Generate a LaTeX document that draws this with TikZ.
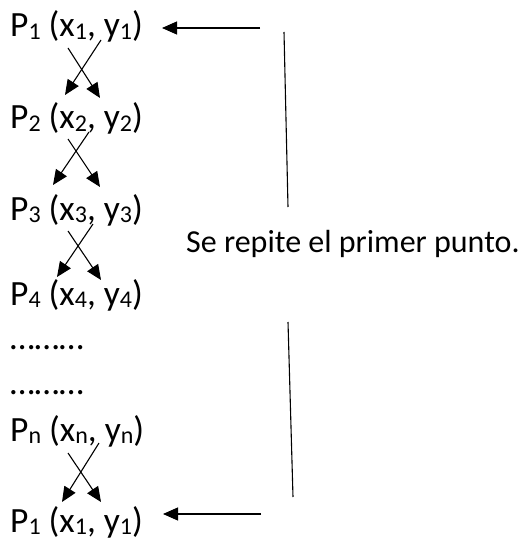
\documentclass[tikz,border=0pt]{standalone}
\usepackage{fontspec}
\setmainfont{Carlito}
\usetikzlibrary{arrows.meta}
\newcommand\mysub[1]{\raisebox{-2.5pt}{\fontsize{24}{24}\selectfont #1}}
\begin{document}
\begin{tikzpicture}[x=1pt,y=-1pt,
  ptlabel/.style={anchor=base west,inner sep=0pt,font=\fontsize{35.5}{43}\selectfont},
  note/.style={anchor=base west,inner sep=0pt,font=\fontsize{32}{38}\selectfont},
  arr/.style={line width=1.1pt,-{Triangle[length=15pt,width=13pt]}},
  ln/.style={line width=1.1pt}]
\useasboundingbox (0,0) rectangle (523,540);

\node[ptlabel] (p1) at (10,37) {P\mysub{1} (x\mysub{1}, y\mysub{1})};
\node[ptlabel] (p2) at (10,129) {P\mysub{2} (x\mysub{2}, y\mysub{2})};
\node[ptlabel] (p3) at (10,220) {P\mysub{3} (x\mysub{3}, y\mysub{3})};
\node[ptlabel] (p4) at (10,305) {P\mysub{4} (x\mysub{4}, y\mysub{4})};
\node[ptlabel] (d1) at (10,349) {………};
\node[ptlabel] (d2) at (10,394) {………};
\node[ptlabel] (pn) at (10,441) {P\mysub{n} (x\mysub{n}, y\mysub{n})};
\node[ptlabel] (pl) at (10,532) {P\mysub{1} (x\mysub{1}, y\mysub{1})};

\node[note] (txt) at (186,252) {Se repite el primer punto.};

% crossing arrows
\coordinate (a1s) at (68,48);  \coordinate (a1e) at (100,98);
\coordinate (b1s) at (101,40); \coordinate (b1e) at (65,95);
\coordinate (a2s) at (68,139); \coordinate (a2e) at (100,187);
\coordinate (b2s) at (89,132); \coordinate (b2e) at (53,185);
\coordinate (a3s) at (68,231); \coordinate (a3e) at (101,280);
\coordinate (b3s) at (93,224); \coordinate (b3e) at (57,277);
\coordinate (a4s) at (68,453); \coordinate (a4e) at (101,502);
\coordinate (b4s) at (99,443); \coordinate (b4e) at (62,502);
\foreach \k in {1,2,3,4}{
  \draw[arr] (a\k s) -- (a\k e);
  \draw[arr] (b\k s) -- (b\k e);
}

% return arrows
\coordinate (h1s) at (260,28);  \coordinate (h1e) at (162,28);
\coordinate (h2s) at (261,514); \coordinate (h2e) at (163,514);
\draw[arr] (h1s) -- (h1e);
\draw[arr] (h2s) -- (h2e);

% vertical lines
\coordinate (v1a) at (284,32);  \coordinate (v1b) at (288,207);
\coordinate (v2a) at (288,322); \coordinate (v2b) at (293,497);
\draw[ln] (v1a) -- (v1b);
\draw[ln] (v2a) -- (v2b);
\end{tikzpicture}
\end{document}
